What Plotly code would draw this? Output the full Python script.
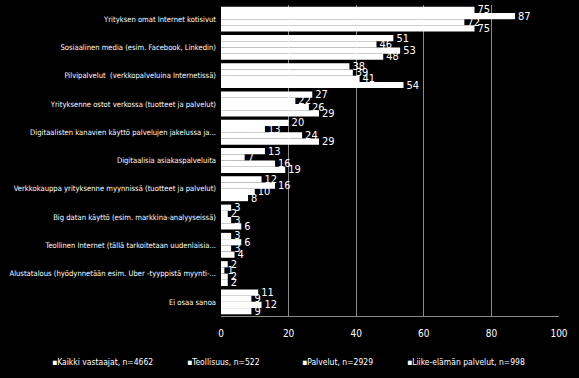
import plotly.graph_objects as go

categories = [
    "Yrityksen omat Internet kotisivut",
    "Sosiaalinen media (esim. Facebook, Linkedin)",
    "Pilvipalvelut  (verkkopalveluina Internetissä)",
    "Yrityksenne ostot verkossa (tuotteet ja palvelut)",
    "Digitaalisten kanavien käyttö palvelujen jakelussa ja...",
    "Digitaalisia asiakaspalveluita",
    "Verkkokauppa yrityksenne myynnissä (tuotteet ja palvelut)",
    "Big datan käyttö (esim. markkina-analyyseissä)",
    "Teollinen Internet (tällä tarkoitetaan uudenlaisia...",
    "Alustatalous (hyödynnetään esim. Uber -tyyppistä myynti-...",
    "Ei osaa sanoa",
]

series_names = [
    "Kaikki vastaajat, n=4662",
    "Teollisuus, n=522",
    "Palvelut, n=2929",
    "Liike-elämän palvelut, n=998",
]

kaikki = [75, 51, 38, 27, 20, 13, 12, 3, 3, 2, 11]
teollisuus = [87, 46, 39, 22, 13, 7, 16, 2, 6, 1, 9]
palvelut = [72, 53, 41, 26, 24, 16, 10, 3, 3, 2, 12]
liike = [75, 48, 54, 29, 29, 19, 8, 6, 4, 2, 9]

values = [kaikki, teollisuus, palvelut, liike]

x_ticks = [0, 20, 40, 60, 80, 100]

FONT = "DejaVu Sans Condensed, Liberation Sans Narrow, sans-serif"

W, H = 579, 378
ML, MR, MT, MB = 221, 20, 5, 62

fig = go.Figure()
for name, vals in zip(series_names, values):
    tf = dict(color="white", size=11, family=FONT)
    fig.add_trace(go.Bar(
        y=categories, x=vals, name=name, orientation="h",
        marker=dict(color="white", line=dict(width=0)),
        text=[str(v) for v in vals], textposition="outside",
        textfont=tf, outsidetextfont=tf, insidetextfont=tf,
        constraintext="none", cliponaxis=False,
        showlegend=False, hoverinfo="skip",
    ))

fig.update_layout(
    barmode="group", bargap=0.12, bargroupgap=0,
    paper_bgcolor="black", plot_bgcolor="black",
    width=W, height=H,
    margin=dict(l=ML, r=MR, t=MT, b=MB, autoexpand=False),
    font=dict(family=FONT, color="white", size=8),
    xaxis=dict(range=[0, 100], tickvals=x_ticks, ticktext=[str(t) for t in x_ticks],
               showgrid=True, gridcolor="#8a8a8a", gridwidth=1,
               showline=True, linecolor="#8a8a8a", linewidth=1,
               zeroline=False, ticks="", automargin=False, ticklabelstandoff=8,
               tickfont=dict(size=10, color="white", family=FONT)),
    yaxis=dict(autorange="reversed", showgrid=False, ticks="", automargin=False,
               showline=False, tickfont=dict(size=7.6, color="white", family=FONT),
               ticklabelstandoff=4),
)

legend_x = [50, 185, 300, 405]
legend_y = 362
pw = W - ML - MR
ph = H - MT - MB
for name, xp in zip(series_names, legend_x):
    fig.add_annotation(
        x=(xp - ML) / pw, y=(H - MB - legend_y) / ph, xref="paper", yref="paper",
        text="\u25aa" + name, showarrow=False, xanchor="left", yanchor="middle",
        font=dict(size=8.5, color="white", family=FONT),
    )

fig.write_html(
    "out.html",
    config={"displayModeBar": False},
    post_script="document.body.style.margin='0';document.body.style.background='black';",
)
